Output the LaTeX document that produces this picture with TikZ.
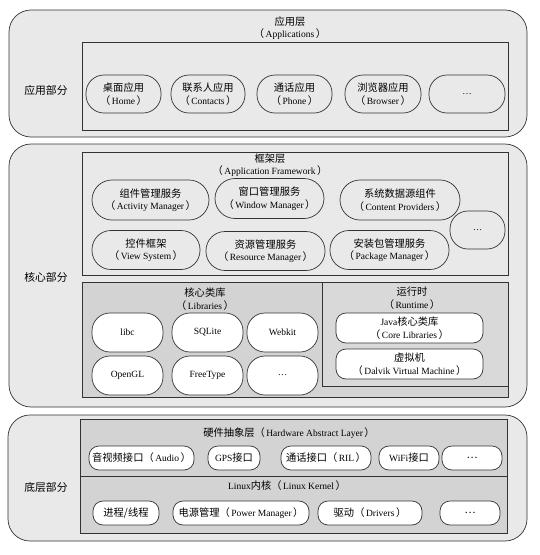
\documentclass[tikz,border=0pt]{standalone}
\usepackage{fontspec}
\setmainfont{Liberation Serif}
\newfontfamily\cjk[Scale=1.08]{Noto Sans CJK SC}
\newcommand\zh[1]{{\cjk #1}}
\newcommand\lp{\zh{（}\kern1.5pt}
\newcommand\rp{\kern1.5pt\zh{）}}
\definecolor{boxgray}{HTML}{E9E9E9}
\definecolor{libgray}{HTML}{D3D3D3}
\definecolor{rtgray}{HTML}{D9D9D9}
\definecolor{edge}{HTML}{333333}
\begin{document}
\begin{tikzpicture}[x=1pt,y=-1pt,
  every node/.style={font=\fontsize{9.5}{12.5}\selectfont, inner sep=0pt, align=center},
  outerbox/.style={draw=edge, line width=0.7pt, fill=boxgray, rounded corners=22pt},
  layerbox/.style={draw=edge, line width=0.7pt, fill=#1},
  sz/.style 2 args={minimum width=#1pt, minimum height=#2pt},
  pill/.style={draw=edge, line width=0.7pt, fill=#1, rounded corners=18pt},
  flatpill/.style={draw=edge, line width=0.7pt, fill=#1, rounded corners=10pt},
  sidelabel/.style={font=\fontsize{10}{12}\selectfont}
]
\useasboundingbox (0,0) rectangle (539,555);

% ---------- top: applications ----------
\draw[outerbox] (9,10) rectangle (527,137);
\draw[layerbox=boxgray] (82,42) rectangle (508,130);
\node (apptitle) at (290,28) {\zh{应用层}\\\lp Applications\rp};
\node[sidelabel] (applabel) at (46,90) {\zh{应用部分}};
\node[pill=boxgray, sz={75}{38}] (home) at (123.5,94) {\zh{桌面应用}\\\lp Home\rp};
\node[pill=boxgray, sz={74}{38}] (contacts) at (208,94) {\zh{联系人应用}\\\lp Contacts\rp};
\node[pill=boxgray, sz={75}{38}] (phone) at (294.5,94) {\zh{通话应用}\\\lp Phone\rp};
\node[pill=boxgray, sz={76}{38}] (browser) at (383,94) {\zh{浏览器应用}\\\lp Browser\rp};
\node[pill=boxgray, sz={76}{38}] (appmore) at (467,94) {…};

% ---------- middle: core ----------
\draw[outerbox] (9,144) rectangle (527,407);
\draw[layerbox=boxgray] (82,152) rectangle (508,275);
\node (fwtitle) at (270,165) {\zh{框架层}\\\lp Application Framework\rp};
\node[sidelabel] (corelabel) at (46,277) {\zh{核心部分}};
\node[pill=boxgray, sz={117}{40}, rounded corners=20pt] (am) at (150.5,200) {\zh{组件管理服务}\\\lp Activity Manager\rp};
\node[pill=boxgray, sz={109}{40}, rounded corners=20pt] (wm) at (269.5,198.5) {\zh{窗口管理服务}\\\lp Window Manager\rp};
\node[pill=boxgray, sz={120}{40}, rounded corners=20pt] (cp) at (400,200) {\zh{系统数据源组件}\\\lp Content Providers\rp};
\node[pill=boxgray, sz={108}{39}, rounded corners=19pt] (vs) at (146,250) {\zh{控件框架}\\\lp View System\rp};
\node[pill=boxgray, sz={119}{39}, rounded corners=19pt] (rm) at (265.5,251) {\zh{资源管理服务}\\\lp Resource Manager\rp};
\node[pill=boxgray, sz={119}{39}, rounded corners=19pt] (pm) at (389.5,250) {\zh{安装包管理服务}\\\lp Package Manager\rp};
\node[pill=boxgray, sz={55}{38}] (fwmore) at (477.5,230) {…};

\draw[layerbox=libgray] (82,282) rectangle (508,397);
\node (libtitle) at (205,299) {\zh{核心类库}\\\lp Libraries\rp};
\node[pill=white, sz={71}{39}] (libc) at (127.5,332.5) {libc};
\node[pill=white, sz={71}{39}] (sqlite) at (207.5,332.5) {SQLite};
\node[pill=white, sz={71}{39}] (webkit) at (282.5,332.5) {Webkit};
\node[pill=white, sz={71}{39}] (opengl) at (127.5,375.5) {OpenGL};
\node[pill=white, sz={71}{39}] (freetype) at (207.5,375.5) {FreeType};
\node[pill=white, sz={71}{39}] (libmore) at (282.5,375.5) {…};

\draw[layerbox=rtgray] (322,282) rectangle (508,386);
\node (rttitle) at (412,298) {\zh{运行时}\\\lp Runtime\rp};
\node[flatpill=white, sz={147}{30}] (corelib) at (409.5,328) {Java\zh{核心类库}\\\lp Core Libraries\rp};
\node[flatpill=white, sz={147}{30}] (dalvik) at (409.5,364) {\zh{虚拟机}\\\lp Dalvik Virtual Machine\rp};

% ---------- bottom: base ----------
\draw[outerbox] (8,415) rectangle (527,541);
\draw[layerbox=libgray] (80,419) rectangle (507,476);
\draw[layerbox=libgray] (80,476) rectangle (507,533);
\node[sidelabel] (baselabel) at (46,487) {\zh{底层部分}};
\node (haltitle) at (289,433) {\zh{硬件抽象层}\lp Hardware Abstract Layer\rp};
\node[flatpill=white, sz={105}{24}] (audio) at (141.5,458) {\zh{音视频接口}\lp Audio\rp};
\node[flatpill=white, sz={52}{24}] (gps) at (234,458) {GPS\zh{接口}};
\node[flatpill=white, sz={90}{24}] (ril) at (326,458) {\zh{通话接口}\lp RIL\rp};
\node[flatpill=white, sz={60}{24}] (wifi) at (409,458) {WiFi\zh{接口}};
\node[flatpill=white, sz={60}{24}] (halmore) at (472,458) {\zh{…}};
\node (linuxtitle) at (287,486) {Linux\zh{内核}\lp Linux Kernel\rp};
\node[flatpill=white, sz={66}{24}] (proc) at (126,513) {\zh{进程/线程}};
\node[flatpill=white, sz={136}{24}] (power) at (241,513) {\zh{电源管理}\lp Power Manager\rp};
\node[flatpill=white, sz={104}{24}] (drivers) at (370,513) {\zh{驱动}\lp Drivers\rp};
\node[flatpill=white, sz={60}{24}] (linuxmore) at (470,513) {\zh{…}};
\end{tikzpicture}
\end{document}
